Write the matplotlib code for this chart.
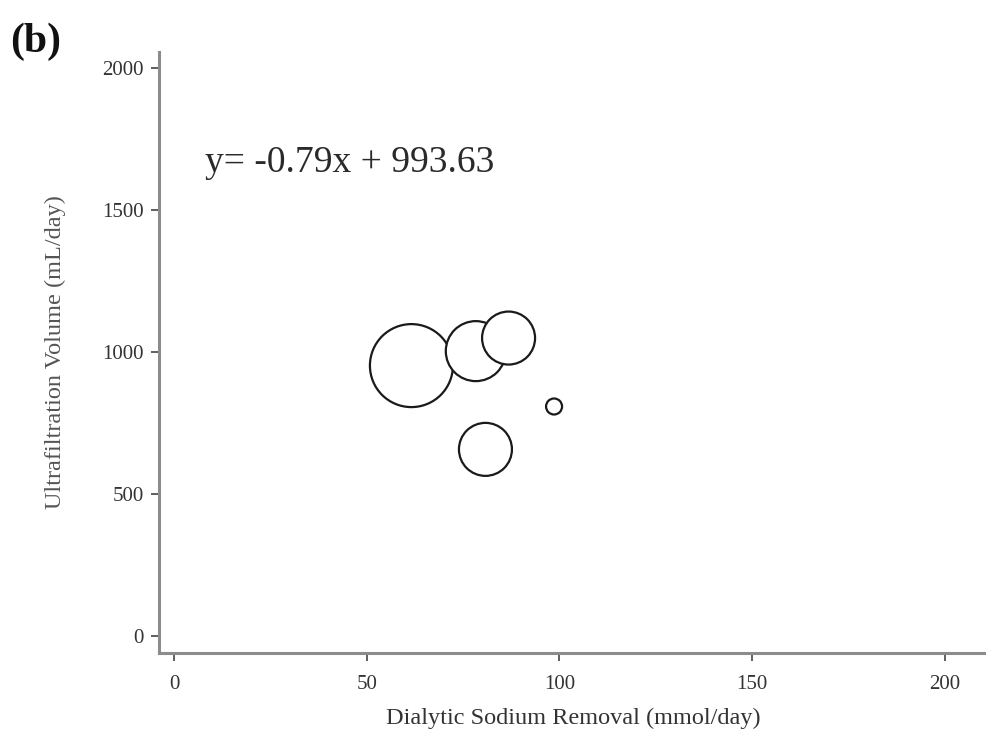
import matplotlib
matplotlib.use("Agg")
import matplotlib.pyplot as plt

# Dialytic sodium removal vs ultrafiltration volume, bubble size = weight
sodium_removal = [61.6, 78.3, 86.8, 98.6, 80.8]
uf_volume = [952, 1003, 1049, 808, 657]
weights = [1722, 900, 702, 64, 702]

x_ticks = [0, 50, 100, 150, 200]
y_ticks = [0, 500, 1000, 1500, 2000]
equation = "y= -0.79x + 993.63"

plt.rcParams["font.family"] = ["Liberation Serif", "DejaVu Serif"]

fig = plt.figure(figsize=(9.87, 7.35), dpi=100)
ax = fig.add_axes([0.161, 0.1116, 0.839, 0.8175])

sizes = [w * (2 * 0.72) ** 2 for w in weights]
ax.scatter(sodium_removal, uf_volume, s=sizes, facecolors="white",
           edgecolors="#1a1a1a", linewidths=1.6, zorder=3)

ax.set_xlim(-3.9, 210.9)
ax.set_ylim(-60, 2056)
ax.set_xticks(x_ticks)
ax.set_yticks(y_ticks)

for side in ["top", "right"]:
    ax.spines[side].set_visible(False)
for side in ["left", "bottom"]:
    ax.spines[side].set_color("#8c8c8c")
    ax.spines[side].set_linewidth(2.2)

ax.tick_params(axis="both", direction="out", length=6, width=1.2,
               color="#444444", labelsize=15, labelcolor="#333333")
ax.tick_params(axis="x", pad=10)
ax.tick_params(axis="y", pad=5)

ax.set_xlabel("Dialytic Sodium Removal (mmol/day)", fontsize=17.5,
              color="#333333", labelpad=10)
ax.set_ylabel("Ultrafiltration Volume (mL/day)", fontsize=17.5,
              color="#555555", labelpad=26)

ax.text(8, 1667, equation, fontsize=27, color="#2a2a2a", va="center", ha="left")
fig.text(0.010, 0.943, "(b)", fontsize=30, fontweight="bold", color="#111111",
         va="center", ha="left")

fig.savefig("out.png", dpi=100, facecolor="white")
